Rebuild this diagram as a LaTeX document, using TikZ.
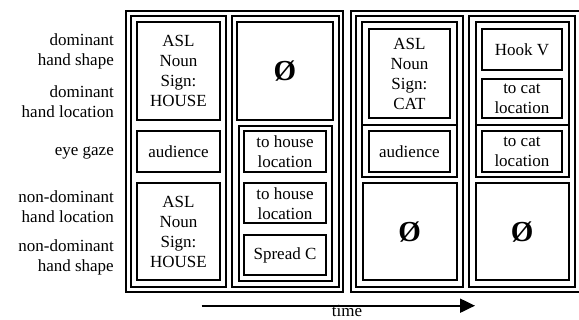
\documentclass[tikz,border=0pt]{standalone}
\usepackage{fontspec}
\setmainfont{Liberation Serif}
\usetikzlibrary{arrows.meta}
\begin{document}
\begin{tikzpicture}[x=1pt, y=-1pt,
  frame/.style={draw=black, line width=2pt},
  txt/.style={align=center, inner sep=0pt, font=\fontsize{17}{20}\selectfont},
  tier/.style={anchor=east, align=right, inner sep=0pt, font=\fontsize{17}{20}\selectfont},
  null/.style={inner sep=0pt, font=\fontsize{29}{30}\selectfont\bfseries}]
\useasboundingbox (0,0) rectangle (579,320);
% tier names
\node (domshape) at (114,51.7) [tier] {dominant\\hand shape};
\node (domloc) at (114,101.7) [tier] {dominant\\hand location};
\node (gaze) at (114,153) [tier] {eye gaze};
\node (ndloc) at (114,206.7) [tier] {non-dominant\\hand location};
\node (ndshape) at (114,257.3) [tier] {non-dominant\\hand shape};
% first sign
\draw [frame] (125.5,10.7) rectangle (343.3,292.3);
\draw [frame] (131.3,16) rectangle (226,286.7);
\draw [frame] (137,22.3) rectangle (220,120);
\node (houseA) at (178.5,71.2) [txt] {ASL\\Noun\\Sign:\\HOUSE};
\draw [frame] (137,131) rectangle (220,172);
\node (audA) at (178.5,151.5) [txt] {audience};
\draw [frame] (137,183.3) rectangle (220,280);
\node (houseB) at (178.5,231.7) [txt] {ASL\\Noun\\Sign:\\HOUSE};
\draw [frame] (231.7,16) rectangle (338.5,286.7);
\draw [frame] (237.3,22.3) rectangle (332.5,120);
\node (nullA) at (284.9,71.2) [null] {Ø};
\draw [frame] (238.7,126) rectangle (332,280.7);
\draw [frame] (244,131) rectangle (326,171.7);
\node (houselocA) at (285,151.4) [txt] {to house\\location};
\draw [frame] (244,183.3) rectangle (326,223.3);
\node (houselocB) at (285,203.3) [txt] {to house\\location};
\draw [frame] (244,235) rectangle (326,275);
\node (spreadC) at (285,255) [txt] {Spread C};
% second sign
\draw [frame] (350.5,10.7) rectangle (582,292.3);
\draw [frame] (355.5,16) rectangle (463.3,286.7);
\draw [frame] (361.5,22.5) rectangle (457,125);
\draw [frame] (361.5,125) rectangle (457,176.7);
\draw [frame] (368.5,29.3) rectangle (450.3,118.5);
\node (cat) at (409.4,73.9) [txt] {ASL\\Noun\\Sign:\\CAT};
\draw [frame] (368.5,131.5) rectangle (450.3,172.3);
\node (audB) at (409.4,151.9) [txt] {audience};
\draw [frame] (362.7,183.3) rectangle (456.7,280);
\node (nullB) at (409.7,231.7) [null] {Ø};
\draw [frame] (469,16) rectangle (574.5,286.7);
\draw [frame] (475.7,22.5) rectangle (568.5,125);
\draw [frame] (475.7,125) rectangle (568.5,176.7);
\draw [frame] (481.7,29.3) rectangle (562,70);
\node (hookV) at (521.9,49.7) [txt] {Hook V};
\draw [frame] (481.7,79) rectangle (562,118.5);
\node (catlocA) at (521.9,98.8) [txt] {to cat\\location};
\draw [frame] (481.7,131.5) rectangle (562,171.7);
\node (catlocB) at (521.9,151.6) [txt] {to cat\\location};
\draw [frame] (475.7,183.3) rectangle (568.5,280);
\node (nullC) at (522.1,231.7) [null] {Ø};
% time axis
\coordinate (tstart) at (201.7,305.7);
\coordinate (tend) at (475,305.7);
\draw [line width=2pt, -{Triangle[length=15pt, width=14pt]}] (tstart) -- (tend);
\node (time) at (347,317) [anchor=base, inner sep=0pt, font=\fontsize{17}{20}\selectfont] {time};
\end{tikzpicture}
\end{document}
